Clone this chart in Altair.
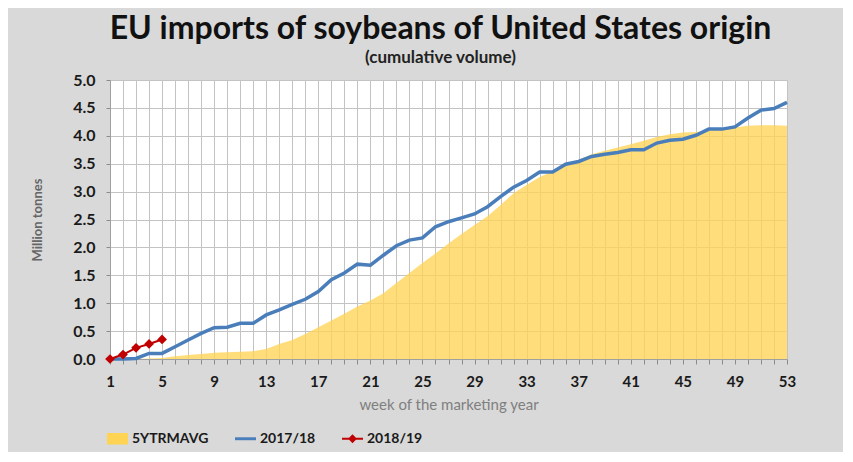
import altair as alt
import pandas as pd

# ---------------- data ----------------
weeks = list(range(1, 54))
avg5 = [0.00, 0.00, 0.00, 0.01, 0.02, 0.05, 0.07, 0.09, 0.11, 0.12,
        0.13, 0.14, 0.18, 0.27, 0.34, 0.45, 0.57, 0.69, 0.81, 0.94,
        1.05, 1.18, 1.36, 1.54, 1.72, 1.89, 2.07, 2.24, 2.40, 2.56,
        2.76, 2.97, 3.12, 3.26, 3.36, 3.48, 3.57, 3.67, 3.73, 3.79,
        3.85, 3.91, 3.98, 4.03, 4.06, 4.07, 4.10, 4.13, 4.15, 4.18,
        4.19, 4.19, 4.18]
y1718 = [0.00, 0.00, 0.01, 0.10, 0.10, 0.22, 0.34, 0.46, 0.56, 0.57,
         0.64, 0.64, 0.79, 0.88, 0.98, 1.07, 1.21, 1.42, 1.54, 1.70,
         1.68, 1.86, 2.03, 2.13, 2.17, 2.37, 2.46, 2.53, 2.60, 2.73,
         2.91, 3.08, 3.20, 3.35, 3.35, 3.49, 3.54, 3.63, 3.67, 3.70,
         3.75, 3.75, 3.87, 3.92, 3.94, 4.01, 4.12, 4.12, 4.16, 4.32,
         4.46, 4.49, 4.60]
weeks_1819 = [1, 2, 3, 4, 5]
y1819 = [0.00, 0.08, 0.20, 0.27, 0.35]

series_names = ["5YTRMAVG", "2017/18", "2018/19"]
series_colors = ["#FFD454", "#4A7EBB", "#C00000"]
x_tick_weeks = weeks
y_ticks = [0.0, 0.5, 1.0, 1.5, 2.0, 2.5, 3.0, 3.5, 4.0, 4.5, 5.0]

df_avg = pd.DataFrame({"week": weeks, "value": avg5})
df_1718 = pd.DataFrame({"week": weeks, "value": y1718})
df_1819 = pd.DataFrame({"week": weeks_1819, "value": y1819})
df_leg = pd.DataFrame({"series": series_names, "week": [1, 1, 1], "value": [0.0, 0.0, 0.0]})

FONT = "Lato"

x_enc = alt.X(
    "week:Q",
    scale=alt.Scale(domain=[1, 53], nice=False, zero=False),
    axis=alt.Axis(
        values=x_tick_weeks,
        labelExpr="(datum.value - 1) % 4 == 0 ? datum.label : ''",
        labelOverlap=False,
        labelFlush=False,
        grid=True,
        gridColor="#c3c3c3",
        ticks=True,
        tickSize=5,
        tickColor="#8c8c8c",
        domainColor="#a0a0a0",
        title="week of the marketing year",
        format="d",
    ),
)
y_enc = alt.Y(
    "value:Q",
    scale=alt.Scale(domain=[0, 5], nice=False),
    axis=alt.Axis(values=y_ticks, format=".1f", title="Million tonnes",
                  labelOverlap=False, grid=True, gridColor="#c3c3c3",
                  ticks=True, tickSize=4, tickColor="#8c8c8c", domainColor="#a0a0a0"),
)

area = alt.Chart(df_avg).mark_area(color=series_colors[0], opacity=0.78).encode(x=x_enc, y=y_enc)
line17 = alt.Chart(df_1718).mark_line(color=series_colors[1], strokeWidth=3.5).encode(x=x_enc, y=y_enc)
line18 = alt.Chart(df_1819).mark_line(
    color=series_colors[2], strokeWidth=2,
    point=alt.OverlayMarkDef(shape="diamond", size=95, filled=True, color=series_colors[2]),
).encode(x=x_enc, y=y_enc)

leg_paths = [
    "M-1,-0.55H1V0.55H-1Z",
    "M-1,-0.14H1V0.14H-1Z",
    "M-1,-0.1H1V0.1H-1Z M0,-0.42L0.42,0L0,0.42L-0.42,0Z",
]
leg_props = dict(
    orient="none", legendX=-3, legendY=348, direction="horizontal", title=None,
    labelFont=FONT, labelFontSize=14, labelFontWeight="bold", labelColor="#1a1a1a",
    symbolSize=441, symbolStrokeWidth=0, symbolOpacity=1, columnPadding=26, labelOffset=4,
)
legend_layer = alt.Chart(df_leg).mark_point(filled=True, opacity=0, size=441).encode(
    x=x_enc, y=y_enc,
    color=alt.Color("series:N", scale=alt.Scale(domain=series_names, range=series_colors),
                    legend=alt.Legend(**leg_props)),
    shape=alt.Shape("series:N", scale=alt.Scale(domain=series_names, range=leg_paths),
                    legend=alt.Legend(**leg_props)),
)

chart = alt.layer(area, line17, line18, legend_layer).properties(
    width=677, height=279,
    padding={"left": 102, "top": 72, "right": 56, "bottom": 93},
    autosize=alt.AutoSizeParams(type="none"),
    background="#d9d9d9",
    title=alt.Title(
        text="EU imports of soybeans of United States origin",
        subtitle="(cumulative volume)",
        font=FONT, fontSize=32, fontWeight="bold", color="#111111",
        subtitleFont=FONT, subtitleFontSize=17, subtitleFontWeight="bold", subtitleColor="#222222",
        anchor="middle", dx=-8, offset=5, subtitlePadding=4,
    ),
).configure_view(fill="white", stroke=None).configure_axis(
    labelFont=FONT, labelFontWeight="bold", labelColor="#1a1a1a", titleFont=FONT,
).configure_axisX(
    labelFontSize=15, labelPadding=10,
    titleFontSize=15, titleFontWeight="normal", titleColor="#7f7f7f", titlePadding=8,
).configure_axisY(
    labelFontSize=16, labelPadding=11,
    titleFontSize=13, titleFontWeight="bold", titleColor="#666666", titlePadding=28,
)

chart.save("out.html", embed_options={"renderer": "svg", "actions": False})
